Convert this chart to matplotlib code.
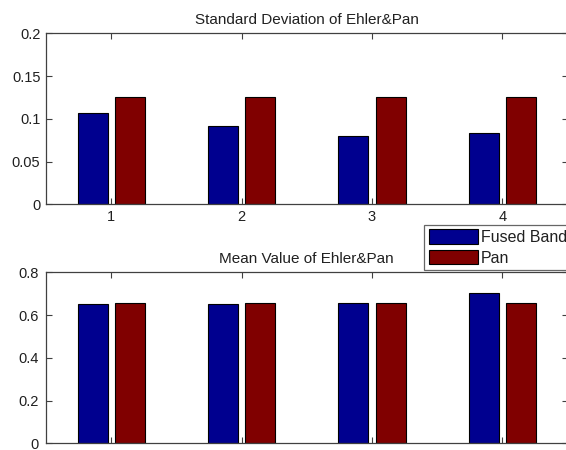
import numpy as np
import matplotlib.pyplot as plt
from matplotlib.patches import Patch


# DATA #

groups = [1, 2, 3, 4]
series_names = ['Fused Band', 'Pan']

std_fused = [0.107, 0.0916, 0.0802, 0.083]
std_pan = [0.125, 0.125, 0.125, 0.125]

mean_fused = [0.652, 0.652, 0.658, 0.705]
mean_pan = [0.658, 0.658, 0.658, 0.658]

std_ticks = [0, 0.05, 0.1, 0.15, 0.2]
std_ticklabels = ['0', '0.05', '0.1', '0.15', '0.2']
mean_ticks = [0, 0.2, 0.4, 0.6, 0.8]
mean_ticklabels = ['0', '0.2', '0.4', '0.6', '0.8']

# jet-style endpoints for two series
c_fused = '#00008f'
c_pan = '#800000'

plt.rcParams['font.family'] = ['Liberation Sans', 'DejaVu Sans']

W, H = 566, 450
fig = plt.figure(figsize=(W/100, H/100), dpi=100)

# axes in pixel boxes -> figure fractions
def px_axes(x0, y0, x1, y1):
    return fig.add_axes([x0/W, 1 - y1/H, (x1 - x0)/W, (y1 - y0)/H])

ax_std = px_axes(46, 33.3, 567.5, 204.3)
ax_mean = px_axes(46, 272.3, 567.5, 443.3)

bar_w = 0.23
offset = 0.143
x = np.array(groups, dtype=float)


def style(ax, ticks, ticklabels, title):
    ax.set_xlim(0.5, 4.5)
    ax.set_ylim(ticks[0], ticks[-1])
    ax.set_xticks(groups)
    ax.set_xticklabels([str(g) for g in groups])
    ax.set_yticks(ticks)
    ax.set_yticklabels(ticklabels)
    ax.tick_params(direction='in', length=4, width=0.8, color='#404040',
                   labelcolor='#202020', labelsize=10.5, top=True, right=True, pad=4)
    for s in ax.spines.values():
        s.set_color('#404040')
        s.set_linewidth(0.9)
    ax.set_title(title, fontsize=11, color='#202020', pad=7)


ax_std.bar(x - offset, std_fused, bar_w, color=c_fused, edgecolor='black', linewidth=0.8)
ax_std.bar(x + offset, std_pan, bar_w, color=c_pan, edgecolor='black', linewidth=0.8)
style(ax_std, std_ticks, std_ticklabels, 'Standard Deviation of Ehler&Pan')

ax_mean.bar(x - offset, mean_fused, bar_w, color=c_fused, edgecolor='black', linewidth=0.8)
ax_mean.bar(x + offset, mean_pan, bar_w, color=c_pan, edgecolor='black', linewidth=0.8)
style(ax_mean, mean_ticks, mean_ticklabels, 'Mean Value of Ehler&Pan')
ax_mean.tick_params(labelbottom=False)
ax_mean.tick_params(axis='y', pad=5)

handles = [Patch(facecolor=c_fused, edgecolor='black', linewidth=0.8),
           Patch(facecolor=c_pan, edgecolor='black', linewidth=0.8)]
leg = fig.legend(handles, series_names, loc='upper left',
                 bbox_to_anchor=(424/W, 1 - 224.7/H),
                 fontsize=11.5, frameon=True, fancybox=False,
                 handlelength=3.1, handleheight=1.0, handletextpad=0.15,
                 borderpad=0.3, labelspacing=0.3, borderaxespad=0)
leg.get_frame().set_edgecolor('#404040')
leg.get_frame().set_linewidth(0.9)
for t in leg.get_texts():
    t.set_color('#202020')

fig.savefig('out.png', dpi=100)
